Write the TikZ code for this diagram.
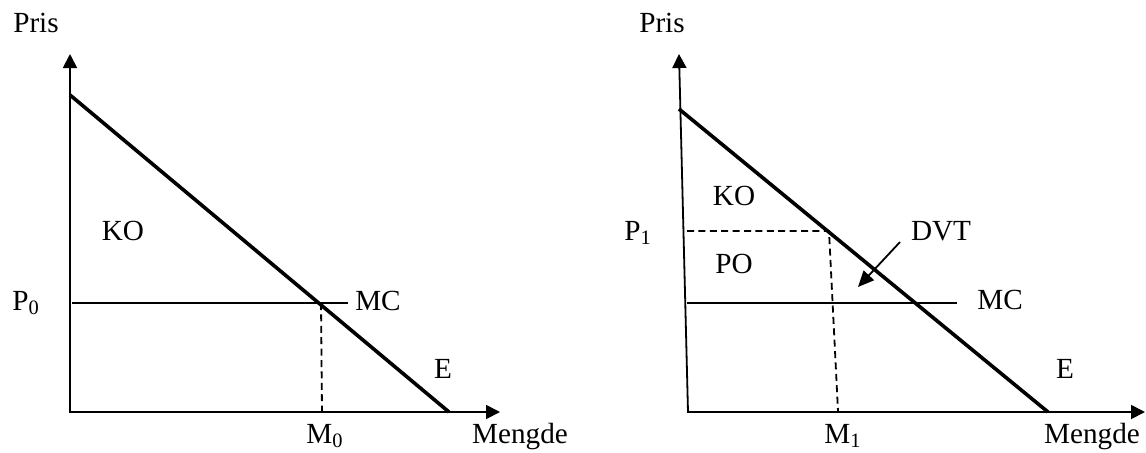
\documentclass[tikz,border=0pt]{standalone}
\usepackage{fontspec}
\setmainfont{Liberation Serif}
\usetikzlibrary{arrows.meta}
\begin{document}
\begin{tikzpicture}[x=0.5pt,y=-0.5pt,
    axis/.style={line width=0.9pt,{Triangle[length=7pt,width=7pt]}-{Triangle[length=7pt,width=7pt]}},
    demand/.style={line width=1.8pt},
    cost/.style={line width=0.9pt},
    guide/.style={line width=0.9pt,dash pattern=on 3.5pt off 2.2pt},
    pointer/.style={line width=0.9pt,-{Triangle[length=8pt,width=7pt]}},
    lbl/.style={font=\fontsize{14.6}{17}\selectfont,inner sep=0pt,anchor=base}]
\useasboundingbox (0,0) rectangle (1146,452);
% left diagram
\coordinate (ytop0) at (70,54);
\coordinate (o0) at (70,412);
\coordinate (xend0) at (500,412);
\coordinate (dtop0) at (70,95);
\coordinate (dend0) at (449,412);
\coordinate (mcs0) at (72,303);
\coordinate (mce0) at (348,303);
\coordinate (q0) at (321,303);
\coordinate (m0) at (322,412);
\draw[axis] (ytop0) -- (o0) -- (xend0);
\draw[demand] (dtop0) -- (dend0);
\draw[cost] (mcs0) -- (mce0);
\draw[guide] (q0) -- (m0);
\node[lbl] (pris0) at (36,32) {Pris};
\node[lbl] (ko0) at (123,240) {KO};
\node[lbl] (p0) at (26,310) {P\textsubscript{0}};
\node[lbl] (mc0) at (378,310) {MC};
\node[lbl] (e0) at (443,378) {E};
\node[lbl] (mm0) at (325,443) {M\textsubscript{0}};
\node[lbl] (mengde0) at (520,443) {Mengde};
% right diagram
\coordinate (ytop1) at (679,54);
\coordinate (o1) at (688,412);
\coordinate (xend1) at (1145,412);
\coordinate (dtop1) at (679,109);
\coordinate (dend1) at (1048,412);
\coordinate (mcs1) at (687,303);
\coordinate (mce1) at (957,303);
\coordinate (ps1) at (687,231);
\coordinate (q1) at (829,231);
\coordinate (m1) at (838,411);
\coordinate (dvts) at (900,242);
\coordinate (dvte) at (858,287);
\draw[axis] (ytop1) -- (o1) -- (xend1);
\draw[demand] (dtop1) -- (dend1);
\draw[cost] (mcs1) -- (mce1);
\draw[guide] (ps1) -- (q1) -- (m1);
\draw[pointer] (dvts) -- (dvte);
\node[lbl] (pris1) at (662,32) {Pris};
\node[lbl] (ko1) at (734,205) {KO};
\node[lbl] (p1) at (638,240) {P\textsubscript{1}};
\node[lbl] (po1) at (734,273) {PO};
\node[lbl] (dvt1) at (941,240) {DVT};
\node[lbl] (mc1) at (1000,309) {MC};
\node[lbl] (e1) at (1065,378) {E};
\node[lbl] (mm1) at (843,443) {M\textsubscript{1}};
\node[lbl] (mengde1) at (1092,443) {Mengde};
\end{tikzpicture}
\end{document}
